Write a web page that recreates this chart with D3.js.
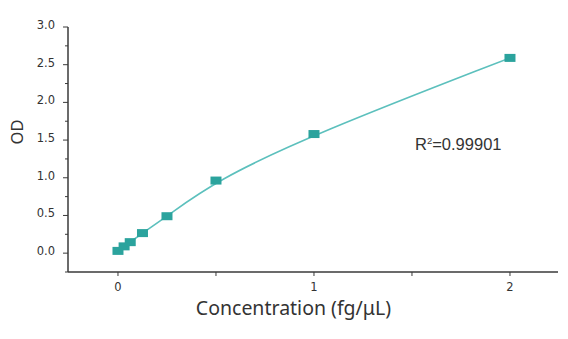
<!DOCTYPE html>
<html>
<head>
<meta charset="utf-8">
<script src="https://cdn.jsdelivr.net/npm/d3@7"></script>
<style>
  html, body { margin: 0; padding: 0; background: #fff; }
  svg { display: block; }
</style>
</head>
<body>
<svg id="chart" width="568" height="339"></svg>
<script>
// Standard curve: concentration (fg/µL) vs optical density
const concentration = [0, 0.03125, 0.0625, 0.125, 0.25, 0.5, 1, 2];
const od = [0.03, 0.09, 0.146, 0.266, 0.49, 0.963, 1.58, 2.59];
const yTickLabels = ["0.0", "0.5", "1.0", "1.5", "2.0", "2.5", "3.0"];
const xTickLabels = ["0", "1", "2"];
const r2Label = "0.99901";

const svg = d3.select("#chart");

const x = d3.scaleLinear().domain([-0.255, 2.245]).range([68, 558]);
const y = d3.scaleLinear().domain([-0.25, 3.0]).range([272, 27]);

const axisColor = "#3a3a3a";
const markColor = "#2ba39d";
const lineColor = "#5cc0bd";

// Y axis: major ticks every 0.5, minor every 0.25
const yAxis = svg.append("g").attr("transform", `translate(${x.range()[0]},0)`);
yAxis.append("line")
  .attr("x1", 0).attr("x2", 0)
  .attr("y1", y(3.0)).attr("y2", y(-0.25))
  .attr("stroke", axisColor).attr("stroke-width", 1.5);
const yMinor = d3.range(-0.25, 3.001, 0.25);
yAxis.selectAll("line.tick").data(yMinor).join("line")
  .attr("class", "tick")
  .attr("x1", d => (Math.abs(d * 2 - Math.round(d * 2)) < 1e-6 ? -5 : -3)).attr("x2", 0)
  .attr("y1", d => y(d)).attr("y2", d => y(d))
  .attr("stroke", axisColor).attr("stroke-width", 1);
yAxis.selectAll("text").data(yTickLabels).join("text")
  .attr("x", -13)
  .attr("y", d => y(+d) - 2)
  .attr("dy", "0.35em")
  .attr("text-anchor", "end")
  .attr("font-family", "DejaVu Sans, Verdana, sans-serif")
  .attr("font-size", 11.5)
  .attr("fill", "#333")
  .text(d => d);

// X axis: ticks every 0.5, labels at integers
const xAxis = svg.append("g").attr("transform", `translate(0,${y.range()[0]})`);
xAxis.append("line")
  .attr("x1", x.range()[0]).attr("x2", x.range()[1])
  .attr("y1", 0).attr("y2", 0)
  .attr("stroke", axisColor).attr("stroke-width", 1.5);
xAxis.selectAll("line.tick").data(d3.range(0, 2.001, 0.5)).join("line")
  .attr("class", "tick")
  .attr("x1", d => x(d)).attr("x2", d => x(d))
  .attr("y1", 0).attr("y2", 4)
  .attr("stroke", axisColor).attr("stroke-width", 1);
xAxis.selectAll("text").data(xTickLabels).join("text")
  .attr("x", d => x(+d))
  .attr("y", 19)
  .attr("text-anchor", "middle")
  .attr("font-family", "DejaVu Sans, Verdana, sans-serif")
  .attr("font-size", 11.5)
  .attr("fill", "#333")
  .text(d => d);

// Axis titles
svg.append("text")
  .attr("transform", `translate(23,132) rotate(-90)`)
  .attr("text-anchor", "middle")
  .attr("font-family", "Noto Sans, sans-serif")
  .attr("font-size", 16.5)
  .attr("fill", "#333")
  .text("OD");

svg.append("text")
  .attr("x", 293.5)
  .attr("y", 315)
  .attr("text-anchor", "middle")
  .attr("font-family", "Noto Sans, sans-serif")
  .attr("font-size", 19.5)
  .attr("fill", "#333")
  .text("Concentration (fg/μL)");

// Smoothed fit line through the standards
const pts = concentration.map((c, i) => [c, od[i]]);
svg.append("path")
  .datum(pts)
  .attr("fill", "none")
  .attr("stroke", lineColor)
  .attr("stroke-width", 1.6)
  .attr("d", d3.line().x(d => x(d[0])).y(d => y(d[1])).curve(d3.curveBasis));

// Standard points
svg.append("g").selectAll("rect").data(pts).join("rect")
  .attr("x", d => x(d[0]) - 5.5)
  .attr("y", d => y(d[1]) - 4)
  .attr("width", 11)
  .attr("height", 8)
  .attr("fill", markColor);

// Goodness of fit
const r2 = svg.append("text")
  .attr("x", 415)
  .attr("y", 150)
  .attr("font-family", "Liberation Sans, Arial, sans-serif")
  .attr("font-size", 16.5)
  .attr("fill", "#333");
r2.append("tspan").text("R");
r2.append("tspan").attr("dy", -6).attr("font-size", 9.5).text("2");
r2.append("tspan").attr("dy", 6).text("=" + r2Label);
</script>
</body>
</html>
